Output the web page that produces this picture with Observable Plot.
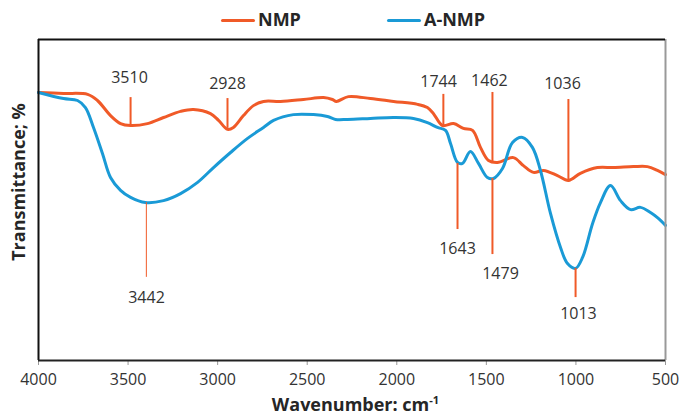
<!DOCTYPE html>
<html>
<head>
<meta charset="utf-8">
<script src="https://cdn.jsdelivr.net/npm/d3@7"></script>
<script src="https://cdn.jsdelivr.net/npm/@observablehq/plot@0.6"></script>
<style>
  html, body { margin: 0; padding: 0; background: #fff; }
  #wrap { position: relative; width: 681px; height: 415px; font-family: "Open Sans", "Liberation Sans", sans-serif; color: #262626; }
  .sw { position: absolute; height: 3px; border-radius: 2px; }
  .lg { position: absolute; font-weight: bold; font-size: 18px; line-height: 18px; white-space: nowrap; }
  #xt { position: absolute; left: 0; width: 711px; text-align: center; top: 395px; font-weight: bold; font-size: 18px; line-height: 18px; white-space: nowrap; }
  #xt sup { font-size: 11px; vertical-align: 7px; line-height: 0; }
  #yt { position: absolute; left: -82px; top: 172px; width: 200px; height: 20px; line-height: 20px; text-align: center; transform: rotate(-90deg); font-weight: bold; font-size: 18px; white-space: nowrap; }
  #plot { position: absolute; left: 0; top: 0; }
</style>
</head>
<body>
<div id="wrap">
  <div id="plot"></div>
  <div class="sw" id="sw0" style="left:221px; top:18.5px; width:34px;"></div>
  <div class="lg" id="lg0" style="left:258px; top:10px;"></div>
  <div class="sw" id="sw1" style="left:387px; top:18.5px; width:34px;"></div>
  <div class="lg" id="lg1" style="left:424px; top:10px;"></div>
  <div id="yt"></div>
  <div id="xt"></div>
</div>
<script>
// ---- data ----
const seriesNames = ["NMP", "A-NMP"];
const seriesColors = ["#F05A28", "#1A9AD6"];

const xTicks = [4000, 3500, 3000, 2500, 2000, 1500, 1000, 500];
const xDomain = [4000, 500];
const yDomain = [0, 100];

const nmpWN = [4000,3860,3726,3671,3598,3542,3486,3392,3302,3207,3135,3040,2995,2945,2912,2856,2800,2744,2649,2521,2409,2359,2337,2270,2147,2018,1884,1829,1795,1745,1683,1628,1577,1533,1488,1438,1349,1293,1237,1181,1103,1042,975,880,790,679,601,545,500];
const nmpT  = [83.5,83.2,82.9,81.0,76.3,73.8,73.2,73.8,75.7,77.6,78.2,76.9,74.8,72.0,72.6,76.3,79.4,80.7,80.7,81.3,81.9,81.3,80.7,82.2,81.6,80.7,79.8,78.8,76.9,73.2,73.8,72.3,71.7,66.4,62.3,61.7,63.2,60.7,58.6,59.2,57.6,56.1,58.3,60.1,60.1,60.4,60.4,59.2,57.9];

const anmpWN = [4000,3860,3782,3738,3693,3643,3598,3542,3486,3403,3302,3207,3112,3023,2928,2833,2744,2688,2577,2465,2387,2342,2275,2147,2018,1907,1829,1773,1728,1700,1661,1633,1589,1544,1494,1460,1410,1354,1298,1243,1198,1142,1086,1047,1002,963,907,863,807,751,695,640,584,545,500];
const anmpT  = [83.5,81.6,81.0,78.8,72.6,64.5,57.0,53.0,50.8,49.2,49.8,52.0,55.5,60.1,64.8,69.2,72.6,74.8,76.6,76.6,76.0,75.1,75.1,75.4,75.7,75.4,74.1,72.6,71.7,67.6,61.7,61.4,65.1,61.4,57.0,56.7,59.8,67.9,69.5,66.4,59.2,45.8,35.2,30.2,28.7,32.1,42.7,49.2,54.5,49.8,47.0,47.7,46.1,44.5,42.1];

const peakLabels = ["3510","2928","1744","1462","1036","3442","1643","1479","1013"];
const peakX      = [3486, 2945, 1740, 1466, 1042, 3398, 1661, 1466, 1002];
const lineTop    = [81.9, 81.6, 82.9, 83.5, 81.3, 49.2, 61.4, 56.7, 28.7];
const lineBottom = [73.2, 72.3, 73.2, 61.7, 56.1, 25.9, 40.8, 33.0, 19.6];
const lineWidth  = [2, 2, 2, 2, 2, 1, 2, 2, 2];
const labelX     = [3492, 2945, 1767, 1483, 1075, 3397, 1661, 1421, 986];
const labelY     = [88.2, 86.3, 86.9, 87.2, 86.3, 19.6, 34.9, 27.1, 14.6];

const yTitle = "Transmittance; %";
const xTitle = "Wavenumber: cm";
const xTitleSup = "-1";

// ---- build tables ----
const nmp = nmpWN.map((w, i) => ({w, t: nmpT[i]}));
const anmp = anmpWN.map((w, i) => ({w, t: anmpT[i]}));
const peaks = peakLabels.map((s, i) => ({s, x: peakX[i], y1: lineBottom[i], y2: lineTop[i], lw: lineWidth[i], lx: labelX[i], ly: labelY[i]}));

const font = "'Open Sans', 'Liberation Sans', sans-serif";

const chart = Plot.plot({
  width: 681,
  height: 415,
  marginTop: 39,
  marginBottom: 55,
  marginLeft: 38,
  marginRight: 16,
  style: {fontFamily: font, fontSize: "16px", color: "#333", background: "transparent", overflow: "visible"},
  x: {domain: xDomain},
  y: {domain: yDomain, axis: null},
  marks: [
    Plot.axisX({ticks: xTicks, tickFormat: d3.format("d"), tickSize: 5, tickPadding: 8, stroke: "#999", fill: "#333", label: null, fontSize: 16}),
    Plot.line(nmp, {x: "w", y: "t", stroke: seriesColors[0], strokeWidth: 3, curve: "catmull-rom"}),
    Plot.line(anmp, {x: "w", y: "t", stroke: seriesColors[1], strokeWidth: 3, curve: "catmull-rom"}),
    Plot.ruleX(peaks, {x: "x", y1: "y1", y2: "y2", stroke: seriesColors[0], strokeWidth: d => d.lw}),
    Plot.text(peaks, {x: "lx", y: "ly", text: "s", fill: "#333", fontSize: 16, lineAnchor: "middle", textAnchor: "middle"}),
    Plot.ruleX([xDomain[0]], {stroke: "#111", strokeWidth: 2}),
    Plot.ruleX([xDomain[1]], {stroke: "#999", strokeWidth: 2}),
    Plot.ruleY([yDomain[1]], {stroke: "#111", strokeWidth: 2}),
    Plot.ruleY([yDomain[0]], {stroke: "#222", strokeWidth: 2})
  ]
});
document.getElementById("plot").appendChild(chart);

// legend and titles
seriesNames.forEach((n, i) => {
  document.getElementById("sw" + i).style.background = seriesColors[i];
  document.getElementById("lg" + i).textContent = n;
});
document.getElementById("yt").textContent = yTitle;
const xt = document.getElementById("xt");
xt.textContent = xTitle;
const sup = document.createElement("sup");
sup.textContent = xTitleSup;
xt.appendChild(sup);
</script>
</body>
</html>
